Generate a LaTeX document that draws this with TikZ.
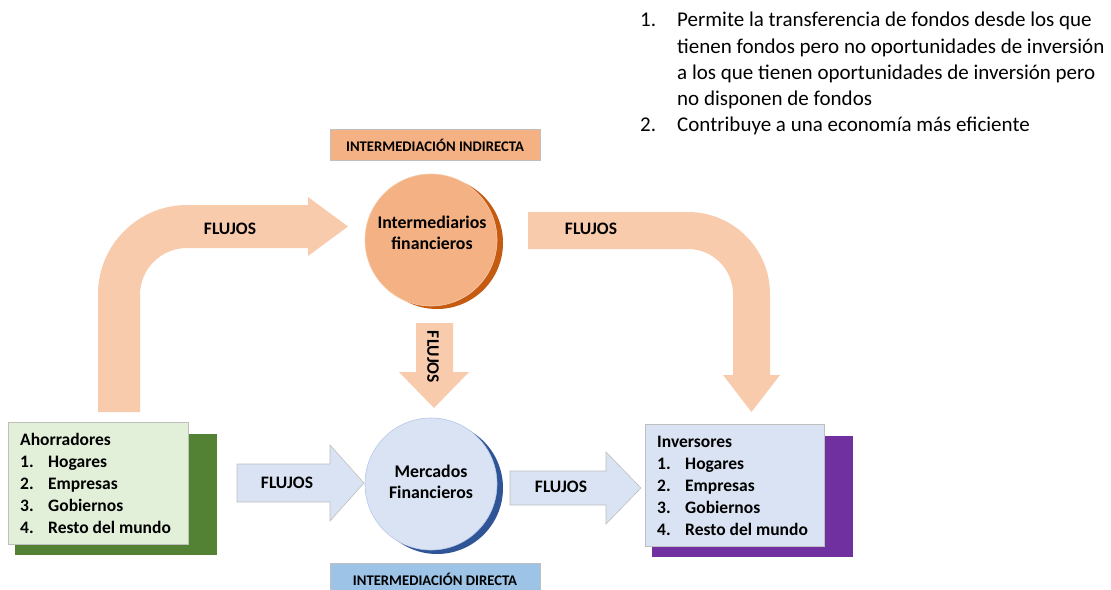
\documentclass[tikz,border=0pt]{standalone}
\usepackage{fontspec}
\setmainfont{Carlito}
\definecolor{orangeL}{HTML}{F8CBAD}
\definecolor{orangeM}{HTML}{F4B183}
\definecolor{orangeD}{HTML}{C55A11}
\definecolor{orangeB}{HTML}{F8CBAD}
\definecolor{blueL}{HTML}{DAE3F3}
\definecolor{blueD}{HTML}{2F5597}
\definecolor{blueM}{HTML}{9DC3E6}
\definecolor{blueB}{HTML}{B4C7E7}
\definecolor{greenL}{HTML}{E2F0D9}
\definecolor{greenD}{HTML}{548235}
\definecolor{purpleD}{HTML}{7030A0}
\definecolor{grayB}{HTML}{BFBFBF}
\begin{document}
\begin{tikzpicture}[x=1pt,y=-1pt,
  txt/.style={inner sep=0pt, anchor=base west},
  toptxt/.style={txt, font=\fontsize{21}{26}\selectfont},
  item/.style={txt, font=\fontsize{17.5}{22}\selectfont\bfseries},
  flujo/.style={inner sep=0pt, font=\fontsize{17.5}{21}\selectfont\bfseries},
  tag/.style={inner sep=0pt, font=\fontsize{14.7}{18}\selectfont\bfseries},
  circtxt/.style={inner sep=0pt, align=center, font=\fontsize{17.8}{21}\selectfont\bfseries},
  blockarrow/.style={fill=orangeL},
  bluearrow/.style={fill=blueL, draw=grayB, line width=0.6pt},
  tagbox/.style={draw=grayB, line width=0.5pt}]
\useasboundingbox (0,0) rectangle (1111,589);

% top text
\node[toptxt] (n1) at (640,27) {1.};
\node[toptxt] (t1a) at (677,27) {Permite la transferencia de fondos desde los que};
\node[toptxt] (t1b) at (677,53) {tienen fondos pero no oportunidades de inversión};
\node[toptxt] (t1c) at (677,79) {a los que tienen oportunidades de inversión pero};
\node[toptxt] (t1d) at (677,105) {no disponen de fondos};
\node[toptxt] (n2) at (640,131) {2.};
\node[toptxt] (t2) at (677,131) {Contribuye a una economía más eficiente};

% intermediación indirecta tag
\fill[orangeM, tagbox] (330,129) rectangle (540,160);
\node[tag] (indirecta) at (435,145) {INTERMEDIACIÓN INDIRECTA};

% intermediación directa tag
\fill[blueM, tagbox] (330,563) rectangle (540,592);
\node[tag] (directa) at (435,579) {INTERMEDIACIÓN DIRECTA};

% left bent arrow (up then right)
\path[blockarrow] (98,412) -- (98,294)
  .. controls (98,245) and (138,205) .. (187,205)
  -- (308,205) -- (308,197) -- (348,226.5) -- (308,256) -- (308,248)
  -- (187,248) .. controls (161,248) and (140,269) .. (140,295)
  -- (140,412) -- cycle;
\node[flujo] (fl1) at (230,229) {FLUJOS};

% right bent arrow (right then down)
\path[blockarrow] (528,212) -- (688,212)
  .. controls (733.3,212) and (770,248.7) .. (770,294)
  -- (770,375) -- (780,375) -- (751.5,412) -- (723,375) -- (733,375)
  -- (733,294) .. controls (733,269.2) and (712.8,249) .. (688,249)
  -- (528,249) -- cycle;
\node[flujo] (fl2) at (591,229) {FLUJOS};

% down arrow between circles
\path[blockarrow] (416,323) -- (453,323) -- (453,372) -- (469,372)
  -- (434,408) -- (399,372) -- (416,372) -- cycle;
\node[flujo, rotate=-90] (fl3) at (433,357) {FLUJOS};

% circle: intermediarios
\fill[orangeD] (437,243) circle[radius=66];
\filldraw[fill=orangeM, draw=orangeB, line width=0.6pt] (431,240) circle[radius=66];
\node[circtxt] (interm) at (432,233) {Intermediarios\\financieros};

% circle: mercados
\fill[blueD] (437,488) circle[radius=66];
\filldraw[fill=blueL, draw=blueB, line width=0.6pt] (431,484) circle[radius=66];
\node[circtxt] (merc) at (431,482) {Mercados\\Financieros};

% blue arrows
\path[bluearrow] (237,464) -- (330,464) -- (330,445) -- (364,483)
  -- (330,521) -- (330,502) -- (237,502) -- cycle;
\node[flujo] (fl4) at (287,483) {FLUJOS};
\path[bluearrow] (510,471) -- (606,471) -- (606,452) -- (641,488)
  -- (606,524) -- (606,505) -- (510,505) -- cycle;
\node[flujo] (fl5) at (561,487) {FLUJOS};

% ahorradores box
\fill[greenD] (15,434) rectangle (217,555);
\filldraw[fill=greenL, draw=grayB, line width=0.6pt] (8,422) rectangle (188,544);
\node[item] (ah) at (20,445) {Ahorradores};
\node[item] (ahn1) at (20,467) {1.};
\node[item] (ah1) at (48,467) {Hogares};
\node[item] (ahn2) at (20,489) {2.};
\node[item] (ah2) at (48,489) {Empresas};
\node[item] (ahn3) at (20,511) {3.};
\node[item] (ah3) at (48,511) {Gobiernos};
\node[item] (ahn4) at (20,533) {4.};
\node[item] (ah4) at (48,533) {Resto del mundo};

% inversores box
\fill[purpleD] (652,436) rectangle (853,557);
\filldraw[fill=blueL, draw=grayB, line width=0.6pt] (645,424) rectangle (824,546);
\node[item] (inv) at (657,447) {Inversores};
\node[item] (invn1) at (657,469) {1.};
\node[item] (inv1) at (685,469) {Hogares};
\node[item] (invn2) at (657,491) {2.};
\node[item] (inv2) at (685,491) {Empresas};
\node[item] (invn3) at (657,513) {3.};
\node[item] (inv3) at (685,513) {Gobiernos};
\node[item] (invn4) at (657,535) {4.};
\node[item] (inv4) at (685,535) {Resto del mundo};
\end{tikzpicture}
\end{document}
